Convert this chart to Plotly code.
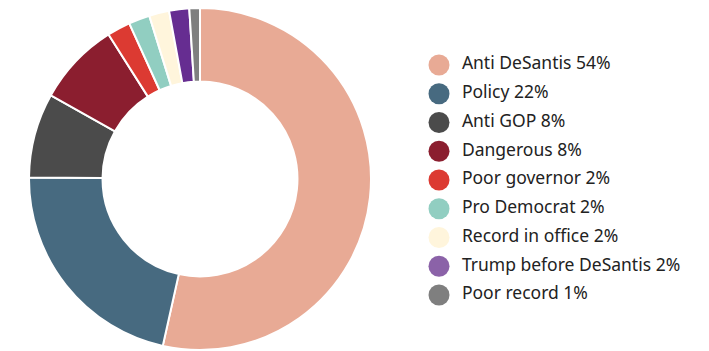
import plotly.graph_objects as go

categories = ["Anti DeSantis", "Policy", "Anti GOP", "Dangerous", "Poor governor",
              "Pro Democrat", "Record in office", "Trump before DeSantis", "Poor record"]
values = [53.6, 21.7, 8.0, 7.9, 2.2, 2.0, 1.9, 1.9, 1.0]
pct_labels = ["54%", "22%", "8%", "8%", "2%", "2%", "2%", "2%", "1%"]
slice_colors = ["#E8AA95", "#476A80", "#4B4B4B", "#8B1E2F", "#DC3A32",
                "#91CEC1", "#FFF5DC", "#662D91", "#7F7F7F"]
legend_colors = ["#E8AA95", "#476A80", "#4B4B4B", "#8B1E2F", "#DC3A32",
                 "#91CEC1", "#FFF5DC", "#8B62A8", "#7F7F7F"]

W, H = 709, 351

fig = go.Figure()
fig.add_trace(go.Pie(
    labels=categories, values=values, sort=False, direction="clockwise", rotation=0,
    hole=0.57, marker=dict(colors=slice_colors, line=dict(color="white", width=2)),
    textinfo="none", showlegend=False,
    domain=dict(x=[29 / W, 371 / W], y=[0, 344 / H]),
))

idx = list(range(len(categories)))
fig.add_trace(go.Scatter(
    x=[0] * len(categories), y=idx, mode="markers",
    marker=dict(size=21, color=legend_colors, line=dict(width=0)),
    cliponaxis=False, showlegend=False, hoverinfo="skip",
))
fig.add_trace(go.Scatter(
    x=[0] * len(categories), y=idx, mode="markers+text",
    marker=dict(size=35, color="rgba(0,0,0,0)", line=dict(width=0)),
    text=[f"{c} {p}" for c, p in zip(categories, pct_labels)],
    textposition="middle right",
    textfont=dict(family="Noto Sans", size=17.5, color="#222222"),
    cliponaxis=False, showlegend=False, hoverinfo="skip",
))

fig.update_layout(
    width=W, height=H, margin=dict(l=0, r=0, t=0, b=0),
    paper_bgcolor="white", plot_bgcolor="rgba(0,0,0,0)",
    xaxis=dict(domain=[439 / W, 1], range=[0, 1], visible=False, fixedrange=True),
    yaxis=dict(domain=[1 - 309.4 / H, 1 - 50.6 / H], range=[8.5, -0.5], visible=False, fixedrange=True),
)

fig.write_html("out.html")
